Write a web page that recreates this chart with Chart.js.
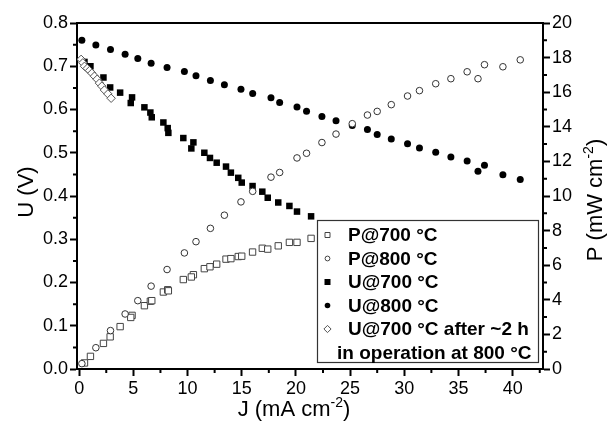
<!DOCTYPE html>
<html><head><meta charset="utf-8">
<script src="https://cdn.jsdelivr.net/npm/chart.js@4"></script>
<style>html,body{margin:0;padding:0;background:#fff;}#wrap{width:607px;height:433px;}</style>
</head><body><div id="wrap"><canvas id="c" width="607" height="433"></canvas></div>
<script>
// ---- data ----
const J800 = [0.25,1.54,2.89,4.24,5.41,6.64,8.11,9.71,10.78,12.11,13.4,14.93,16.01,17.7,18.5,20.1,20.98,22.4,23.7,25.2,26.6,27.5,28.8,30.3,31.4,32.9,34.3,35.8,36.8,37.4,39.1,40.7];
const U800 = [0.760,0.749,0.739,0.728,0.718,0.707,0.697,0.688,0.678,0.667,0.657,0.647,0.637,0.627,0.616,0.606,0.596,0.584,0.574,0.563,0.554,0.542,0.532,0.521,0.511,0.501,0.490,0.481,0.457,0.471,0.449,0.438];
const P800 = [0.31,1.23,2.22,3.18,3.95,4.79,5.75,6.71,7.36,8.13,8.89,9.66,10.27,11.09,11.36,12.2,12.47,13.09,13.58,14.18,14.68,14.89,15.28,15.78,16.09,16.49,16.78,17.18,16.78,17.59,17.47,17.87];
const J700 = [0.49,1.04,2.24,2.86,3.78,4.88,4.76,6.02,6.57,6.7,7.77,8.17,8.23,9.61,10.54,10.35,11.55,12.07,12.69,13.55,14.0,14.68,15.0,16.0,16.9,17.4,18.37,19.4,20.1,21.4];
const U700 = [0.710,0.700,0.674,0.651,0.639,0.628,0.615,0.605,0.593,0.582,0.570,0.557,0.546,0.534,0.524,0.510,0.500,0.488,0.477,0.468,0.454,0.442,0.431,0.423,0.410,0.396,0.385,0.377,0.364,0.353];
const P700 = [0.35,0.73,1.48,1.86,2.45,3.10,2.98,3.66,3.92,3.95,4.45,4.58,4.52,5.17,5.45,5.32,5.80,5.91,6.06,6.35,6.38,6.50,6.52,6.76,6.98,6.93,7.12,7.32,7.32,7.55];
const JAFTER = [0.18,0.34,0.49,0.74,0.95,1.17,1.41,1.66,1.87,2.09,2.33,2.65,2.95];
const UAFTER = [0.716,0.708,0.700,0.695,0.690,0.684,0.677,0.670,0.661,0.654,0.645,0.636,0.626];
const X_TICKS = [0,5,10,15,20,25,30,35,40];
const U_TICKS = [0,0.1,0.2,0.3,0.4,0.5,0.6,0.7,0.8];
const P_TICKS = [0,2,4,6,8,10,12,14,16,18,20];
const LEGEND_LABELS = ['P@700 °C','P@800 °C','U@700 °C','U@800 °C','U@700 °C after ~2 h'];
const LEGEND_EXTRA = 'in operation at 800 °C';
const X_TITLE = ['J (mA cm','-2',')'];
const UL_TITLE = ['U (V)'];
const PR_TITLE = ['P (mW cm','-2',')'];
// --------------------------------------
const FONT = '"Liberation Sans", Arial, Helvetica, sans-serif';
const pts = (xs, ys) => xs.map((x,i)=>({x:x, y:ys[i]}));

function drawTitle(ctx, parts, cx, cy, rot){
  const big = '22px ' + FONT, small = '14px ' + FONT;
  const segs = parts.map((t,i)=>({t:t, f:(parts.length===3 && i===1)?small:big, dy:(parts.length===3 && i===1)?-9:0}));
  let w = 0;
  segs.forEach(s=>{ctx.font=s.f; s.w=ctx.measureText(s.t).width; w+=s.w;});
  ctx.save();
  ctx.translate(cx, cy);
  ctx.rotate(rot);
  ctx.fillStyle = '#000';
  ctx.textBaseline = 'alphabetic';
  ctx.textAlign = 'left';
  let x = -w/2;
  segs.forEach(s=>{ctx.font=s.f; ctx.fillText(s.t, x, 8 + s.dy); x+=s.w;});
  ctx.restore();
}

const deco = {
  id:'deco',
  afterDraw(chart){
    const ctx = chart.ctx, a = chart.chartArea;
    const xs = chart.scales.x, yl = chart.scales.y, yr = chart.scales.y2;
    ctx.save();
    ctx.strokeStyle = '#000';
    ctx.lineWidth = 2;
    ctx.beginPath();
    ctx.moveTo(a.left-1, a.top); ctx.lineTo(a.right+1, a.top);
    ctx.stroke();
    ctx.beginPath();
    for (let v=2.5; v<xs.max; v+=5){ const p=xs.getPixelForValue(v); ctx.moveTo(p,a.bottom); ctx.lineTo(p,a.bottom+4); }
    for (let k=0; k<8; k++){ const p=yl.getPixelForValue(0.05+0.1*k); ctx.moveTo(a.left,p); ctx.lineTo(a.left-4,p); }
    for (let v=1; v<20; v+=2){ const p=yr.getPixelForValue(v); ctx.moveTo(a.right,p); ctx.lineTo(a.right+4,p); }
    ctx.stroke();

    drawTitle(ctx, X_TITLE, 294, 408, 0);
    drawTitle(ctx, UL_TITLE, 25, 192, -Math.PI/2);
    drawTitle(ctx, PR_TITLE, 594, 200, -Math.PI/2);

    // legend
    const bx = 317, by = 220, bw = 221, bh = 142;
    ctx.fillStyle = '#fff';
    ctx.fillRect(bx, by, bw, bh);
    ctx.strokeStyle = '#333';
    ctx.lineWidth = 1.2;
    ctx.strokeRect(bx+0.5, by+0.5, bw, bh);
    const rowY = k => by + 15 + k*23.5;
    const mx = 327.5;
    LEGEND_LABELS.forEach((lab,k)=>{
      const y = rowY(k);
      ctx.lineWidth = 1;
      ctx.beginPath();
      if (k===0){ ctx.rect(mx-2.5,y-2.5,5,5); ctx.fillStyle='#fff'; ctx.fill(); ctx.strokeStyle='#444'; ctx.stroke(); }
      if (k===1){ ctx.arc(mx,y,2.4,0,Math.PI*2); ctx.fillStyle='#fff'; ctx.fill(); ctx.strokeStyle='#444'; ctx.stroke(); }
      if (k===2){ ctx.rect(mx-3,y-3,6,6); ctx.fillStyle='#000'; ctx.fill(); }
      if (k===3){ ctx.arc(mx,y,2.8,0,Math.PI*2); ctx.fillStyle='#000'; ctx.fill(); }
      if (k===4){ ctx.moveTo(mx,y-3.6); ctx.lineTo(mx+3.6,y); ctx.lineTo(mx,y+3.6); ctx.lineTo(mx-3.6,y); ctx.closePath(); ctx.fillStyle='#fff'; ctx.fill(); ctx.strokeStyle='#555'; ctx.stroke(); }
      ctx.fillStyle = '#000';
      ctx.font = 'bold 19px ' + FONT;
      ctx.textBaseline = 'middle';
      ctx.textAlign = 'left';
      ctx.fillText(lab, 348, y+1);
    });
    ctx.fillText(LEGEND_EXTRA, 337, rowY(5)+1);
    ctx.restore();
  }
};

const tickFont = {family: FONT, size: 18};
const gridCfg = {display:true, drawOnChartArea:false, drawTicks:true, tickLength:7, tickWidth:2, tickColor:'#000'};
const borderCfg = {display:true, color:'#000', width:2};

new Chart(document.getElementById('c'), {
  type: 'scatter',
  data: {
    datasets: [
      {label: LEGEND_LABELS[4], data: pts(JAFTER, UAFTER), yAxisID:'y', order:0,
       pointStyle:'rectRot', pointRadius:4.2, backgroundColor:'#fff', borderColor:'#555', borderWidth:1},
      {label: LEGEND_LABELS[1], data: pts(J800, P800), yAxisID:'y2', order:1,
       pointStyle:'circle', pointRadius:3.3, backgroundColor:'#fff', borderColor:'#333', borderWidth:1},
      {label: LEGEND_LABELS[0], data: pts(J700, P700), yAxisID:'y2', order:2,
       pointStyle:'rect', pointRadius:4.5, backgroundColor:'#fff', borderColor:'#444', borderWidth:1},
      {label: LEGEND_LABELS[3], data: pts(J800, U800), yAxisID:'y', order:3,
       pointStyle:'circle', pointRadius:3.5, backgroundColor:'#000', borderColor:'#000', borderWidth:0},
      {label: LEGEND_LABELS[2], data: pts(J700, U700), yAxisID:'y', order:4,
       pointStyle:'rect', pointRadius:4.6, backgroundColor:'#000', borderColor:'#000', borderWidth:0}
    ]
  },
  options: {
    responsive:false, animation:false, devicePixelRatio:1, events:[],
    layout:{padding:{top:23, left:0, right:0, bottom:0}},
    plugins:{legend:{display:false}, tooltip:{enabled:false}, title:{display:false}},
    scales:{
      x:{type:'linear', position:'bottom', min:-0.2, max:42.8,
         afterBuildTicks:s=>{s.ticks = X_TICKS.map(v=>({value:v}));},
         afterFit:s=>{s.height = 64;},
         ticks:{font:tickFont, color:'#000', padding:2, maxRotation:0, autoSkip:false, callback:v=>String(v)},
         grid:gridCfg, border:borderCfg},
      y:{type:'linear', position:'left', min:0, max:0.8,
         afterBuildTicks:s=>{s.ticks = U_TICKS.map(v=>({value:v}));},
         afterFit:s=>{s.width = 77;},
         ticks:{font:tickFont, color:'#000', padding:2, autoSkip:false, callback:v=>Number(v).toFixed(1)},
         grid:gridCfg, border:borderCfg},
      y2:{type:'linear', position:'right', min:0, max:20,
         afterBuildTicks:s=>{s.ticks = P_TICKS.map(v=>({value:v}));},
         afterFit:s=>{s.width = 64;},
         ticks:{font:tickFont, color:'#000', padding:2, autoSkip:false, callback:v=>String(v)},
         grid:gridCfg, border:borderCfg}
    }
  },
  plugins:[deco]
});
</script></body></html>
